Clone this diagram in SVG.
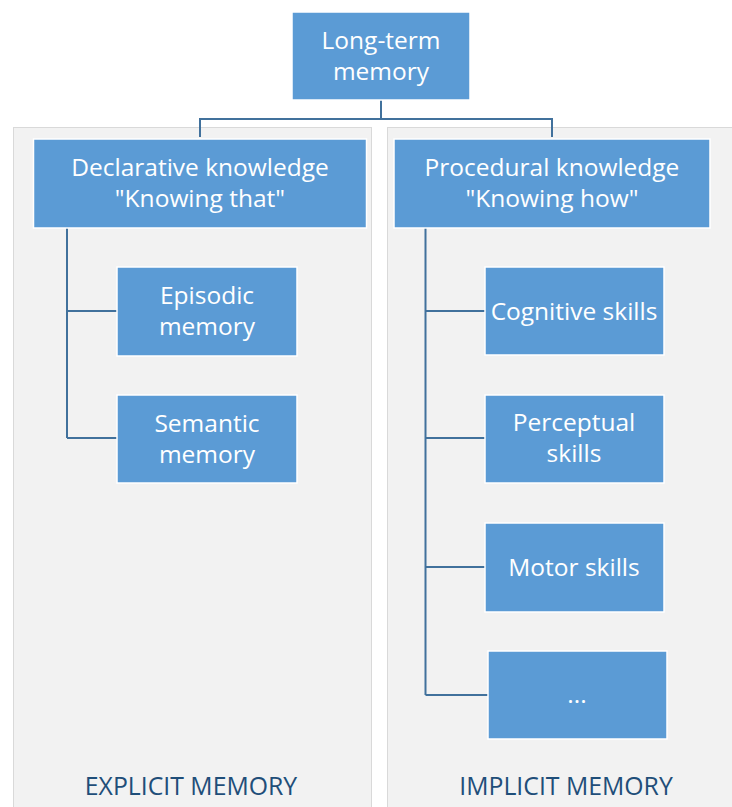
<svg xmlns="http://www.w3.org/2000/svg" width="732" height="807" viewBox="0 0 732 807">
  <style>
    .panel { fill: #F2F2F2; stroke: #D9D9D9; stroke-width: 1; }
    .box { fill: #5B9BD5; stroke: #FFFFFF; stroke-width: 1.5; }
    .lbl { fill: #FFFFFF; font-family: "Open Sans", "Noto Sans", "Liberation Sans", sans-serif; font-size: 24.5px; text-anchor: middle; }
    .cap { fill: #1F4E79; font-family: "Open Sans", "Noto Sans", "Liberation Sans", sans-serif; font-size: 24.8px; text-anchor: middle; }
    .conn { fill: none; stroke: #41719C; stroke-width: 2; }
  </style>
  <rect width="732" height="807" fill="#FFFFFF"/>

  <!-- background panels -->
  <g id="panel-explicit">
    <rect class="panel" x="13.5" y="127.5" width="358" height="690"/>
    <text class="cap" x="191" y="795">EXPLICIT MEMORY</text>
  </g>
  <g id="panel-implicit">
    <rect class="panel" x="387.5" y="127.5" width="360" height="690"/>
    <text class="cap" x="566" y="795">IMPLICIT MEMORY</text>
  </g>

  <!-- connectors -->
  <g id="connectors">
    <path class="conn" d="M381 100 V119 M200 137 V119 H552 V137"/>
    <path class="conn" d="M67 228 V438 M67 311 H117 M67 438 H117"/>
    <path class="conn" d="M425.5 228 V695 M425.5 311 H485 M425.5 438 H485 M425.5 567 H485 M425.5 695 H488"/>
  </g>

  <g id="long-term-memory">
    <rect class="box" x="292" y="12" width="178" height="88"/>
    <text class="lbl" x="381" y="49">Long-term</text>
    <text class="lbl" x="381" y="80">memory</text>
  </g>
  <g id="declarative">
    <rect class="box" x="33.5" y="139" width="333" height="89"/>
    <text class="lbl" x="200" y="176">Declarative knowledge</text>
    <text class="lbl" x="200" y="207">"Knowing that"</text>
  </g>
  <g id="procedural">
    <rect class="box" x="394" y="139" width="316" height="89"/>
    <text class="lbl" x="552" y="176">Procedural knowledge</text>
    <text class="lbl" x="552" y="207">"Knowing how"</text>
  </g>
  <g id="episodic">
    <rect class="box" x="117" y="267" width="180" height="89"/>
    <text class="lbl" x="207" y="304">Episodic</text>
    <text class="lbl" x="207" y="335">memory</text>
  </g>
  <g id="semantic">
    <rect class="box" x="117" y="395" width="180" height="88"/>
    <text class="lbl" x="207" y="432">Semantic</text>
    <text class="lbl" x="207" y="463">memory</text>
  </g>
  <g id="cognitive">
    <rect class="box" x="485" y="267" width="179" height="88"/>
    <text class="lbl" x="574" y="320">Cognitive skills</text>
  </g>
  <g id="perceptual">
    <rect class="box" x="485" y="395" width="179" height="88"/>
    <text class="lbl" x="574" y="431">Perceptual</text>
    <text class="lbl" x="574" y="462">skills</text>
  </g>
  <g id="motor">
    <rect class="box" x="485" y="523" width="179" height="89"/>
    <text class="lbl" x="574" y="576">Motor skills</text>
  </g>
  <g id="more">
    <rect class="box" x="488" y="651" width="179" height="88"/>
    <text class="lbl" x="577" y="703">...</text>
  </g>
</svg>
